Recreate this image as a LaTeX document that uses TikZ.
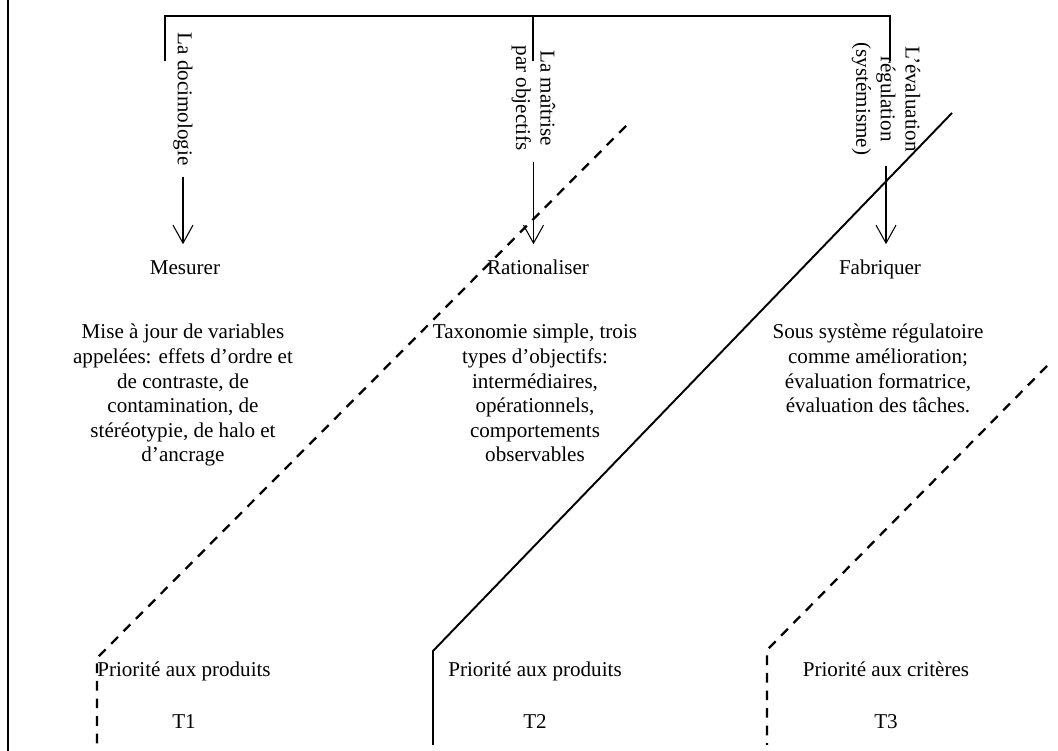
\documentclass[tikz,border=0pt]{standalone}
\usepackage{fontspec}
\setmainfont{Liberation Serif}
\usetikzlibrary{arrows.meta, positioning}

\begin{document}
\begin{tikzpicture}[
        txt/.style = {font=\fontsize{12}{14}\selectfont, align=center},
        side/.style = {txt, rotate=-90},
        word/.style = {txt, text height=1.6ex, text depth=0.4ex},
        arr/.style = {-{Straight Barb[length=0.36cm, width=0.4cm]}, line width=0.6pt, shorten <=0.1cm, shorten >=0.23cm},
        dashline/.style = {dash pattern=on 5.5pt off 4.5pt, line width=1.3pt}
]
        \useasboundingbox (0,0) rectangle (21.16,15.02);

%frame line on the left
        \draw[line width=0.7pt] (0.16,15.02) -- (0.16,0);

%bracket at the top
        \coordinate (A) at (3.30,13.80);
        \coordinate (B) at (17.80,13.80);
        \coordinate (M) at (10.66,13.80);
        \draw[line width=1.1pt] (A) -- (A |- 0,14.70) -- (B |- 0,14.70) -- (B);
        \draw[line width=1.1pt] (M) -- (M |- 0,14.70);

%the three approaches
        \node[side] (doci) at (3.66,13.04) {La docimologie};
        \node[side] (maitrise) at (10.67,13.06) {La maîtrise\\par objectifs};
        \node[side] (regul) at (17.72,13.04) {L’évaluation\\régulation\\(systémisme)};

        \node[word] (mes) at (3.70,9.62) {Mesurer};
        \node[word] (rat) at (10.76,9.62) {Rationaliser};
        \node[word] (fab) at (17.60,9.62) {Fabriquer};

        \draw[arr] (doci.east) -- (doci.east |- mes.north);
        \draw[arr] (maitrise.east) -- (maitrise.east |- rat.north);
        \draw[arr] (regul.east) -- (regul.east |- fab.north);

%descriptions
        \node[txt, anchor = north] (desc1) at (3.66,8.66) {Mise à jour de variables\\appelées: effets d’ordre et\\de contraste, de\\contamination, de\\stéréotypie, de halo et\\d’ancrage};
        \node[txt, anchor = north] (desc2) at (10.70,8.66) {Taxonomie simple, trois\\types d’objectifs:\\intermédiaires,\\opérationnels,\\comportements\\observables};
        \node[txt, anchor = north] (desc3) at (17.56,8.66) {Sous système régulatoire\\comme amélioration;\\évaluation formatrice,\\évaluation des tâches.};

%priorities
        \node[word] (pri1) at (3.68,1.58) {Priorité aux produits};
        \node[word] (pri2) at (10.70,1.58) {Priorité aux produits};
        \node[word] (pri3) at (17.72,1.58) {Priorité aux critères};

        \node[word, below = 0.46cm of pri1] (T1) {T1};
        \node[word, below = 0.46cm of pri2] (T2) {T2};
        \node[word, below = 0.46cm of pri3] (T3) {T3};

%separating lines
        \coordinate (S1) at (12.52,12.50);
        \coordinate (K1) at (1.94,1.86);
        \coordinate (S2) at (19.04,12.76);
        \coordinate (K2) at (8.66,2.00);
        \coordinate (S3) at (20.94,7.70);
        \coordinate (K3) at (15.34,2.02);

        \draw[dashline] (S1) -- (K1) -- (K1 |- 0,0.12);
        \draw[line width=1.1pt] (S2) -- (K2) -- (K2 |- 0,0.12);
        \draw[dashline] (S3) -- (K3) -- (K3 |- 0,0.12);
\end{tikzpicture}
\end{document}
